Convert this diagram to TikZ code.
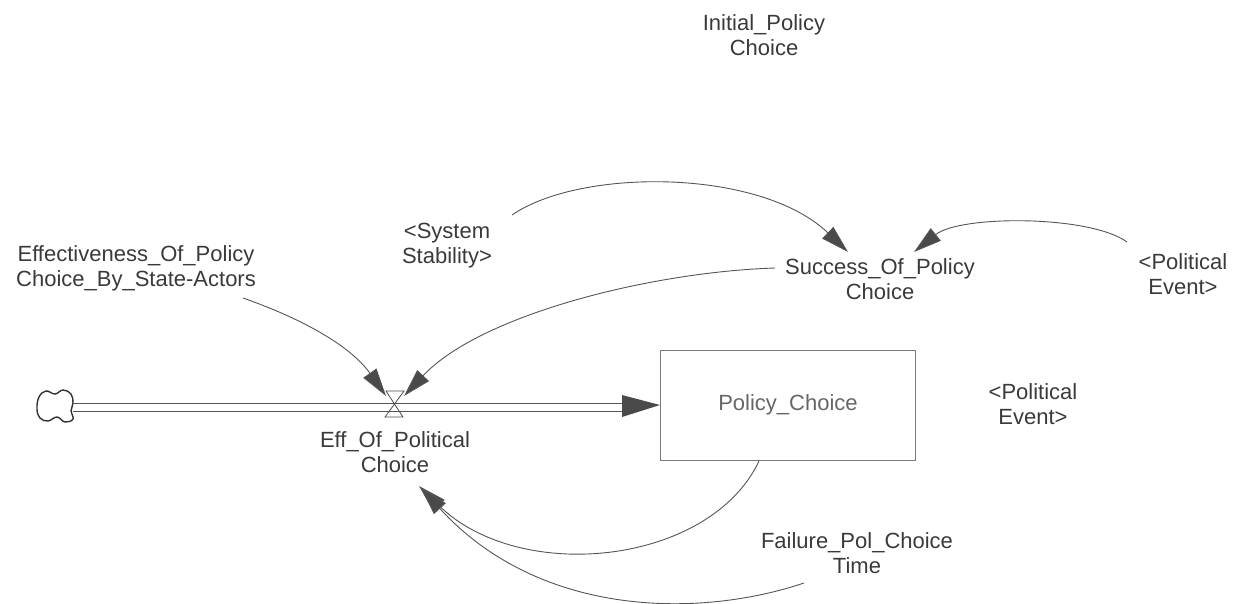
\documentclass[tikz,border=0pt]{standalone}
\usepackage{fontspec}
\setmainfont{Liberation Sans}
\usetikzlibrary{arrows.meta,calc}
\definecolor{txt}{HTML}{3A3A3A}
\definecolor{lin}{HTML}{555555}
\definecolor{ahd}{HTML}{4A4A4A}
\definecolor{boxc}{HTML}{7A7A7A}
\begin{document}
\begin{tikzpicture}[x=1pt,y=-1pt,
  lbl/.style={align=center,inner sep=0pt,text=txt,font=\fontsize{22}{25}\selectfont},
  infl/.style={draw=lin,line width=0.9pt,-{Triangle[length=28pt,width=16pt,fill=ahd]}},
  stockbox/.style={draw=boxc,line width=1pt,minimum width=255pt,minimum height=110pt,inner sep=0pt,text=black!60,font=\fontsize{22}{25}\selectfont}]
\useasboundingbox (0,0) rectangle (1233,603);

% text nodes
\node[lbl] (init) at (764,35) {Initial\_Policy\\Choice};
\node[lbl] (sys) at (447,246) {<System\\Stability>};
\node[lbl] (eff) at (136,268) {Effectiveness\_Of\_Policy\\Choice\_By\_State-Actors};
\node[lbl] (succ) at (880,279) {Success\_Of\_Policy\\Choice};
\node[lbl] (pe1) at (1183,274) {<Political\\Event>};
\node[lbl] (pe2) at (1033,404) {<Political\\Event>};
\node[lbl] (effpol) at (395,452) {Eff\_Of\_Political\\Choice};
\node[lbl] (fail) at (857,553) {Failure\_Pol\_Choice\\Time};
\node[stockbox] (stock) at (788,405) {Policy\_Choice};

% cloud
\coordinate (cloud) at (55,406);
\draw[draw=black!80,line width=1.4pt] plot[smooth cycle,tension=0.7] coordinates
 {(39,397) (46,391) (55,394) (63,390) (71,394) (73,403) (71,411) (73,419) (65,422) (57,417) (48,421) (40,418) (37,409)};

% valve
\coordinate (valve) at (394,404);
% pipe
\coordinate (pipeA) at (73,407);
\coordinate (pipeB) at (622,407);
\draw[lin,line width=0.9pt] ([yshift=-4pt]pipeA) -- ([yshift=-4pt]pipeB);
\draw[lin,line width=0.9pt] ([yshift=4pt]pipeA) -- ([yshift=4pt]pipeB);
\fill[ahd] (622,395) -- (stock.west) -- (622,417) -- cycle;
\draw[black!70,line width=0.8pt] ($(valve)+(-8,-13)$) -- ($(valve)+(10,-13)$) -- ($(valve)+(-9,13)$) -- ($(valve)+(9,13)$) -- cycle;

% connector endpoints
\coordinate (effOut) at (243,298);
\coordinate (valveL) at (386,396);
\coordinate (succOut) at (775,268);
\coordinate (valveR) at (404,396);
\coordinate (sysOut) at (512,215);
\coordinate (succInL) at (848,252);
\coordinate (peOut) at (1127,242);
\coordinate (succInR) at (914,252);
\coordinate (stockOut) at (759,461);
\coordinate (effIn) at (419,486);
\coordinate (failOut) at (804,583);
\coordinate (effIn2) at (421,488);

% connectors
\draw[infl] (effOut) .. controls (300,318) and (350,345) .. (valveL);
\draw[infl] (succOut) .. controls (650,272) and (480,315) .. (valveR);
\draw[infl] (sysOut) .. controls (580,168) and (760,168) .. (succInL);
\draw[infl] (peOut) .. controls (1090,215) and (960,215) .. (succInR);
\draw[infl] (stockOut) .. controls (710,565) and (520,585) .. (effIn);
\draw[infl] (failOut) .. controls (700,618) and (540,618) .. (effIn2);
\end{tikzpicture}
\end{document}
